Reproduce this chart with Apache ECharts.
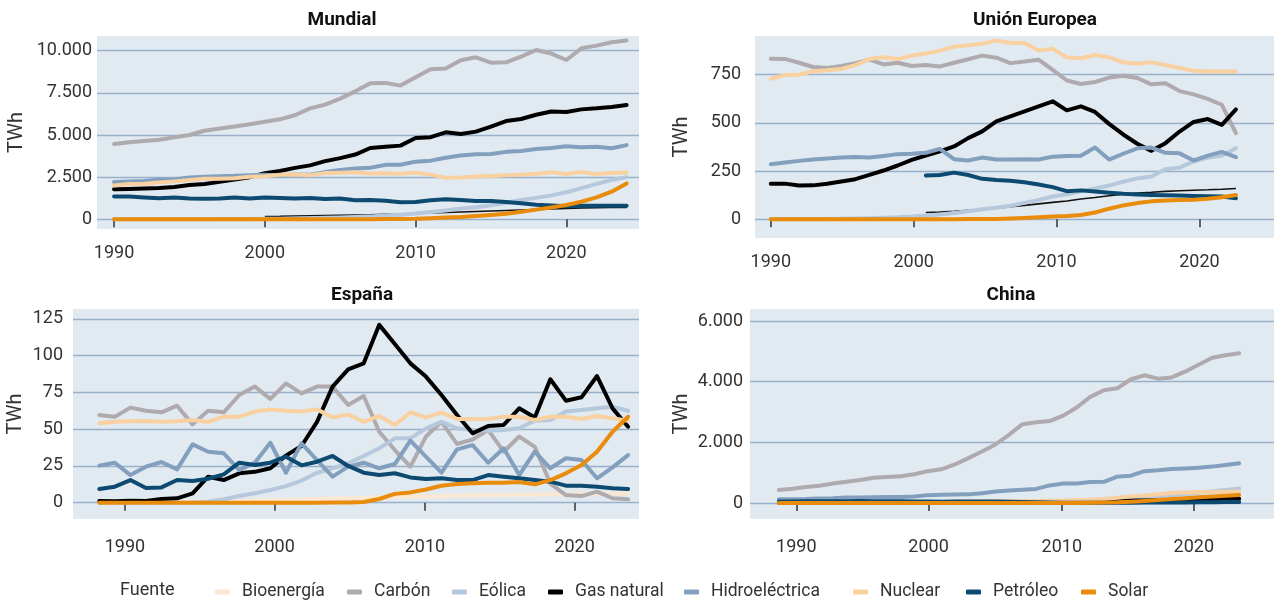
<!DOCTYPE html>
<html>
<head>
<meta charset="utf-8">
<script src="https://cdn.jsdelivr.net/npm/echarts@6/dist/echarts.min.js"></script>
<style>
  html, body { margin: 0; padding: 0; background: #fff; }
  #chart { width: 1274px; height: 601px; }
</style>
</head>
<body>
<div id="chart"></div>
<script>
// fuentes y colores
var sources = ['Bioenergía', 'Carbón', 'Eólica', 'Gas natural', 'Hidroeléctrica', 'Nuclear', 'Petróleo', 'Solar'];
var colors = ['#fbe8d3', '#aeaaae', '#b5c8dc', '#000000', '#829fbe', '#f9d0a0', '#0d4a71', '#e98b0b'];
var legendLeft = [215, 347, 452, 548, 684, 853, 966, 1081];

var xLabels = ['1990', '2000', '2010', '2020'];

// Mundial (1990-2024)
var wYears = [1990,1991,1992,1993,1994,1995,1996,1997,1998,1999,2000,2001,2002,2003,2004,2005,2006,2007,2008,2009,2010,2011,2012,2013,2014,2015,2016,2017,2018,2019,2020,2021,2022,2023,2024];
var wCarbon = [4470,4570,4650,4720,4860,5000,5250,5380,5500,5640,5790,5930,6170,6580,6800,7160,7590,8070,8090,7930,8420,8900,8940,9430,9610,9290,9310,9650,10040,9830,9450,10140,10300,10500,10600];
var wGas = [1780,1800,1830,1850,1920,2030,2100,2220,2360,2500,2730,2870,3050,3200,3450,3630,3840,4230,4310,4370,4820,4870,5160,5060,5200,5500,5830,5950,6200,6390,6370,6520,6580,6660,6780];
var wHydro = [2210,2240,2270,2340,2360,2480,2520,2560,2580,2620,2640,2600,2660,2640,2800,2920,3020,3060,3230,3240,3420,3480,3650,3780,3860,3870,4000,4050,4170,4230,4330,4270,4300,4210,4400];
var wNuclear = [2010,2090,2110,2180,2250,2330,2410,2400,2440,2530,2560,2640,2660,2620,2740,2760,2790,2720,2730,2700,2760,2650,2460,2480,2540,2570,2610,2640,2700,2790,2690,2800,2680,2740,2770];
var wOil = [1360,1350,1300,1250,1290,1230,1220,1230,1290,1240,1300,1270,1240,1260,1210,1230,1130,1140,1100,1010,1020,1130,1190,1140,1090,1080,1030,950,870,820,780,800,800,800,810];
var wWind = [4,4,5,6,7,8,10,12,16,21,31,38,52,63,85,104,133,171,220,277,342,437,523,646,712,832,962,1140,1270,1420,1600,1850,2100,2330,2500];
var wSolar = [0,0,0,0,0,1,1,1,1,1,1,1,2,2,3,4,6,8,12,20,32,64,100,135,190,256,330,446,575,700,850,1040,1300,1640,2130];
var wBio = [null,null,null,null,null,null,null,null,null,null,170,180,195,210,225,240,255,270,290,310,340,370,400,430,460,490,520,550,580,610,640,670,690,700,710];

// Unión Europea (1990-2023)
var euYears = [1990,1991,1992,1993,1994,1995,1996,1997,1998,1999,2000,2001,2002,2003,2004,2005,2006,2007,2008,2009,2010,2011,2012,2013,2014,2015,2016,2017,2018,2019,2020,2021,2022,2023];
var euCarbon = [833,832,812,790,785,795,810,828,803,812,795,800,793,812,830,849,838,810,818,828,775,720,702,712,735,745,733,700,706,665,648,625,594,447];
var euGas = [185,185,175,176,184,196,208,230,253,279,308,331,352,378,421,456,508,534,560,586,612,565,586,557,495,440,392,355,395,455,505,520,490,570];
var euHydro = [286,295,303,310,315,320,323,320,328,338,340,345,365,312,305,320,310,310,312,310,325,328,330,372,310,340,368,372,345,342,305,330,350,322];
var euNuclear = [729,748,750,768,773,780,800,831,840,831,849,860,875,895,903,910,928,915,914,875,884,840,835,852,840,814,807,814,800,785,770,766,766,766];
var euOil = [null,null,null,null,null,null,null,null,null,null,null,227,230,242,230,210,204,200,192,180,167,146,150,144,138,132,128,126,125,123,121,120,118,109];
var euWind = [1,1,1,2,2,3,4,6,8,10,14,20,25,33,42,52,60,70,85,100,118,130,145,160,175,195,212,222,260,268,300,320,330,369];
var euSolar = [0,0,0,0,0,0,0,0,0,0,0,0,0,0,1,1,2,4,7,10,14,17,22,35,55,72,84,93,97,100,102,106,114,126];
var euBio = [null,null,null,null,null,null,null,null,null,null,null,35,38,42,47,52,58,65,72,80,88,95,105,113,122,130,136,140,145,148,151,153,156,160];

// España (1990-2024)
var esYears = wYears;
var esGas = [1.1,1,1.4,1.2,2.5,3,6.4,17.7,15.4,20,21,23.4,32,38.6,55,79,90.7,94.8,121,108,94.8,85.8,73.3,59.7,47.2,52.2,52.9,64.2,58,84,69.4,71.7,86.2,64.2,51.7];
var esCarbon = [59.7,58.5,64.7,62.6,61.5,66,53.3,62.6,61.5,73.3,79,70.6,81.2,74.4,79,79,66.5,72.6,48.3,35.8,24.5,45,55,40,43,49.5,34.7,45,38,13,5.2,4.5,7.5,3,2.3];
var esNuclear = [54,55,55.4,55.6,55,55.4,56.3,55,58.5,58.5,62,63.5,62.6,62,63.5,58,60,55,59,52.9,61.5,58,61.3,57,57,57,58.5,58.5,56.3,58.5,58.5,57,59,57.4,55.8];
var esHydro = [25.2,27.2,18.8,24.5,27.7,22.7,39.7,34.7,33.6,22.2,27.2,40.8,20.4,40.4,29,17.7,24.5,27.2,23.4,26.3,42.2,31.3,20.4,36.3,39.2,27.2,37,18.8,34.7,23.4,30.2,29,16.6,24,32.4];
var esWind = [0,0,0,0,0,0,0.2,0.7,2.3,4.5,6.4,8.6,11.3,15,20.4,23.4,26.8,31.8,37,43.8,43.8,50.6,55,50.6,49.5,49,49.5,50.6,55.8,56.3,62,63,64.2,65.3,62.6];
var esOil = [9.3,10.9,15.4,10,10.4,15.4,14.7,16.3,19.3,27.2,25.6,27.2,31.3,25.4,27.9,31.8,25,20.4,18.8,20,17.2,16.1,16.6,15.4,15.4,18.8,17.7,16.6,15.4,14.3,11.6,11.6,10.9,9.8,9.3];
var esSolar = [0,0,0,0,0,0,0,0,0,0,0,0,0,0,0,0.1,0.2,0.5,2.5,6,7,9,11.5,12.7,13.2,13.5,13.6,14,12.5,15.4,20,25.6,34.7,48.3,58.5];
var esBio = [0.5,0.5,0.6,0.6,0.7,0.7,0.8,0.8,1,1,1.5,1.8,2,2.2,2.5,2.8,3,3.2,3.5,3.8,4,4.3,4.6,4.8,5,5.2,5.3,5.5,5.6,5.8,5.8,6,6,6,6];

// China (1990-2024)
var cnYears = wYears;
var cnCarbon = [430,470,530,570,640,700,760,830,860,880,950,1050,1110,1270,1480,1700,1930,2250,2600,2660,2700,2880,3150,3500,3720,3780,4080,4210,4100,4140,4330,4560,4790,4870,4935];
var cnHydro = [125,128,130,150,160,180,185,190,200,200,215,260,275,282,285,320,380,410,435,465,580,640,640,690,700,870,900,1050,1080,1120,1140,1160,1200,1255,1310];
var cnWind = [0,0,0,0,0,0,0,0,0,0,0,0,0,0,0,0,1,3,5,10,20,35,50,70,95,120,150,185,220,260,300,340,385,430,475];
var cnNuclear = [0,0,0,0,13,13,14,14,14,15,17,17,25,43,50,53,55,62,68,70,74,86,97,111,132,171,213,248,286,330,345,360,370,375,380];
var cnSolar = [0,0,0,0,0,0,0,0,0,0,0,0,0,0,0,0,0,0,0,0,0,1,3,8,15,25,45,70,100,130,160,190,215,240,265];
var cnGas = [3,3,3,3,3,3,4,4,4,5,6,7,8,10,12,15,20,25,30,38,45,52,60,65,70,75,80,85,90,98,105,112,120,130,140];
var cnOil = [50,52,55,58,60,62,64,62,60,58,50,47,45,48,50,52,51,45,35,25,15,10,8,8,10,10,12,14,15,18,20,22,25,30,35];
var cnBio = [0,0,0,0,0,0,0,0,0,0,0,0,1,2,3,5,8,10,14,18,24,30,36,42,48,55,65,75,90,105,120,135,150,160,170];

// ticks (posicion de cada etiqueta de año en la escala de datos de cada panel)
var wTicks = [1990, 2000, 2010, 2020];
var euTicks = [1990, 2000.14, 2010.27, 2020.41];
var esTicks = [1991.65, 2001.27, 2010.94, 2020.56];
var cnTicks = [1991.29, 2001.06, 2010.9, 2020.65];

var wY = [0, 2500, 5000, 7500, 10000];
var euY = [0, 250, 500, 750];
var esY = [0, 25, 50, 75, 100, 125];
var cnY = [0, 2000, 4000, 6000];

var panels = [
  { years: wYears, extra: wBio, vals: [null, wCarbon, wWind, wGas, wHydro, wNuclear, wOil, wSolar], ticks: wTicks, yTicks: wY,
    grid: { left: 97, top: 36, width: 542, height: 193 }, xMin: 1988.87, xMax: 2024.82, yMin: -575, yMax: 10872, yMargin: 5, nameGap: 70, xMargin: 15 },
  { years: euYears, extra: euBio, vals: [null, euCarbon, euWind, euGas, euHydro, euNuclear, euOil, euSolar], ticks: euTicks, yTicks: euY,
    grid: { left: 755, top: 36, width: 519, height: 202 }, xMin: 1988.88, xMax: 2025.70, yMin: -97, yMax: 950.7, yMargin: 14, nameGap: 63, xMargin: 15 },
  { years: esYears, extra: null, vals: [esBio, esCarbon, esWind, esGas, esHydro, esNuclear, esOil, esSolar], ticks: esTicks, yTicks: esY,
    grid: { left: 73, top: 309, width: 566, height: 210 }, xMin: 1988.31, xMax: 2024.70, yMin: -11.1, yMax: 131.8, yMargin: 10, nameGap: 47, xMargin: 19 },
  { years: cnYears, extra: null, vals: [cnBio, cnCarbon, cnWind, cnGas, cnHydro, cnNuclear, cnOil, cnSolar], ticks: cnTicks, yTicks: cnY,
    grid: { left: 750, top: 309, width: 524, height: 210 }, xMin: 1987.87, xMax: 2026.57, yMin: -527, yMax: 6396, yMargin: 7, nameGap: 58, xMargin: 19 }
];

function fmt(v) {
  return String(v).replace(/\B(?=(\d{3})+(?!\d))/g, '.');
}

function pairs(years, vals) {
  return years.map(function (y, i) { return [y, vals[i]]; });
}

var font = 'Roboto';
var grids = [], xAxes = [], yAxes = [], series = [];

panels.forEach(function (p, k) {
  grids.push(Object.assign({ show: true, backgroundColor: '#e2eaf1', borderWidth: 0 }, p.grid));
  xAxes.push({
    type: 'value', gridIndex: k, min: p.xMin, max: p.xMax,
    axisLine: { show: false },
    splitLine: { show: false },
    axisTick: { show: true, customValues: p.ticks, length: 8, lineStyle: { color: '#333', width: 1.5 } },
    axisLabel: {
      customValues: p.ticks, margin: p.xMargin, fontSize: 18, color: '#333', fontFamily: font,
      formatter: function (v) {
        var best = 0;
        p.ticks.forEach(function (t, i) { if (Math.abs(t - v) < Math.abs(p.ticks[best] - v)) best = i; });
        return xLabels[best];
      }
    }
  });
  yAxes.push({
    type: 'value', gridIndex: k, min: p.yMin, max: p.yMax,
    name: 'TWh', nameLocation: 'middle', nameGap: p.nameGap, nameRotate: 90,
    nameTextStyle: { fontSize: 20, color: '#333', fontFamily: font },
    axisLine: { show: false },
    axisTick: { show: false, customValues: p.yTicks },
    axisLabel: { customValues: p.yTicks, margin: p.yMargin, fontSize: 18, color: '#333', fontFamily: font, formatter: fmt },
    splitLine: { show: true, lineStyle: { color: '#98b0ca', width: 1.3 } }
  });
  if (p.extra) {
    series.push({
      type: 'line', name: 'Bioenergía (serie)', xAxisIndex: k, yAxisIndex: k,
      data: pairs(p.years, p.extra), showSymbol: false, silent: true, z: 1,
      lineStyle: { color: '#111', width: 1.6 }, itemStyle: { color: '#111' }
    });
  }
  p.vals.forEach(function (vals, s) {
    if (!vals) return;
    series.push({
      type: 'line', name: sources[s], xAxisIndex: k, yAxisIndex: k,
      data: pairs(p.years, vals), showSymbol: false, clip: false, z: 2 + s,
      lineStyle: { color: colors[s], width: 4, cap: 'round', join: 'round' },
      itemStyle: { color: colors[s] }
    });
  });
});

// una leyenda por fuente para fijar su posicion
var legends = sources.map(function (s, i) {
  return {
    data: [{ name: s, itemStyle: { color: colors[i] } }],
    icon: 'roundRect', itemWidth: 15, itemHeight: 5, padding: 0,
    left: legendLeft[i], top: 583,
    textStyle: { fontSize: 17.5, color: '#333', fontFamily: font, padding: [0, 0, 0, 7] }
  };
});

var chart = echarts.init(document.getElementById('chart'));
chart.setOption({
  animation: false,
  backgroundColor: '#ffffff',
  grid: grids,
  xAxis: xAxes,
  yAxis: yAxes,
  series: series,
  legend: legends,
  graphic: [
    { type: 'text', style: { text: 'Mundial', x: 342, y: 20, align: 'center', verticalAlign: 'middle', font: 'bold 19px Roboto', fill: '#111' } },
    { type: 'text', style: { text: 'Unión Europea', x: 1035, y: 20, align: 'center', verticalAlign: 'middle', font: 'bold 19px Roboto', fill: '#111' } },
    { type: 'text', style: { text: 'España', x: 362, y: 295, align: 'center', verticalAlign: 'middle', font: 'bold 19px Roboto', fill: '#111' } },
    { type: 'text', style: { text: 'China', x: 1011, y: 295, align: 'center', verticalAlign: 'middle', font: 'bold 19px Roboto', fill: '#111' } },
    { type: 'text', style: { text: 'Fuente', x: 120, y: 590, align: 'left', verticalAlign: 'middle', font: '18px Roboto', fill: '#333' } }
  ]
});
</script>
</body>
</html>
